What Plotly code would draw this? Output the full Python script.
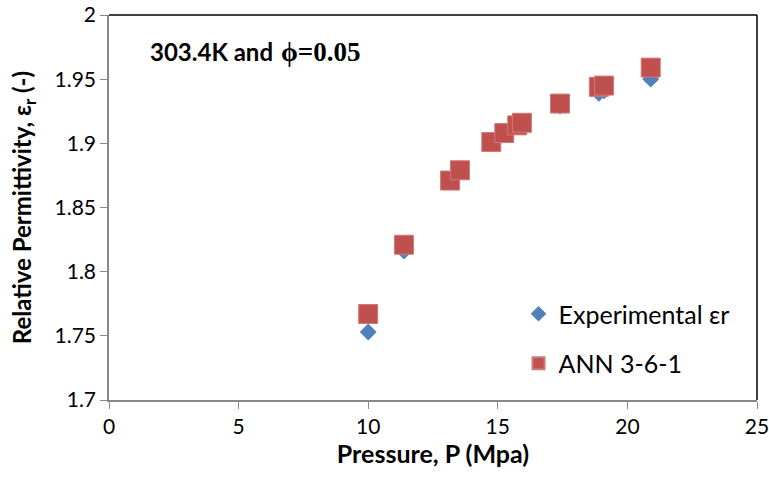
import plotly.graph_objects as go

pressure_exp = [10.0, 11.38, 13.16, 13.54, 14.75, 15.25, 15.75, 15.93, 17.4, 18.9, 19.1, 20.9]
eps_exp = [1.753, 1.816, 1.870, 1.878, 1.900, 1.907, 1.913, 1.915, 1.929, 1.939, 1.941, 1.950]
pressure_ann = [10.0, 11.38, 13.16, 13.54, 14.75, 15.25, 15.75, 15.93, 17.4, 18.9, 19.1, 20.9]
eps_ann = [1.767, 1.821, 1.871, 1.879, 1.901, 1.908, 1.914, 1.916, 1.931, 1.944, 1.945, 1.959]

x_ticks = [0, 5, 10, 15, 20, 25]
y_ticks = [1.7, 1.75, 1.8, 1.85, 1.9, 1.95, 2.0]
y_tick_text = ["1.7", "1.75", "1.8", "1.85", "1.9", "1.95", "2"]

FONT = "Lato"

fig = go.Figure()
fig.add_trace(go.Scatter(
    x=pressure_exp, y=eps_exp, mode="markers", name="Experimental εr",
    legendgroup="a",
    marker=dict(symbol="diamond", size=13, color="#4F81BD", line=dict(width=0)),
))
fig.add_trace(go.Scatter(
    x=pressure_ann, y=eps_ann, mode="markers", name="ANN 3-6-1",
    legendgroup="b",
    marker=dict(symbol="square", size=19, color="#C0504D",
                line=dict(width=1, color="#D07A78")),
))

fig.update_layout(
    width=769, height=481,
    margin=dict(l=109, r=12, t=15, b=81),
    paper_bgcolor="white", plot_bgcolor="white",
    font=dict(family=FONT, color="black", size=20),
    showlegend=True,
    legend=dict(x=0.632, y=0.283, xanchor="left", yanchor="top",
                bgcolor="rgba(0,0,0,0)", font=dict(size=25, family=FONT),
                traceorder="grouped", tracegroupgap=14, itemsizing="constant"),
    xaxis=dict(range=[0, 25], tickvals=x_ticks, ticks="outside", ticklen=7,
               tickcolor="#888888", showline=True, linecolor="#888888",
               linewidth=1.5, showgrid=False, zeroline=False, automargin=False,
               ticklabeloverflow="allow",
               tickfont=dict(size=21, family=FONT),
               title=dict(text="<b>Pressure, P (Mpa)</b>", font=dict(size=25, family=FONT),
                          standoff=2)),
    yaxis=dict(range=[1.7, 2.0], tickvals=y_ticks, ticktext=y_tick_text,
               ticks="outside", ticklen=7, tickcolor="#888888", showline=True,
               linecolor="#888888", linewidth=1.5, showgrid=False, zeroline=False,
               automargin=False, ticklabeloverflow="allow",
               tickfont=dict(size=21, family=FONT),
               title=dict(text="<b>Relative Permittivity, ε<sub>r</sub> (-)</b>",
                          font=dict(size=24, family=FONT), standoff=16)),
)

# top and right border of plot area
fig.add_shape(type="line", xref="paper", yref="paper", x0=0, x1=1, y0=1, y1=1,
              line=dict(color="black", width=1.5))
fig.add_shape(type="line", xref="paper", yref="paper", x0=1, x1=1, y0=0, y1=1,
              line=dict(color="black", width=1.5))

fig.add_annotation(
    xref="paper", yref="paper", x=0.06, y=0.904, xanchor="left", yanchor="middle",
    showarrow=False, text="<b>303.4K and</b>",
    font=dict(size=24, family=FONT, color="black"),
)
fig.add_annotation(
    xref="paper", yref="paper", x=0.263, y=0.904, xanchor="left", yanchor="middle",
    showarrow=False, text="<b>ϕ=0.05</b>",
    font=dict(size=27, family="Liberation Serif", color="black"),
)

fig.write_html(
    "out.html",
    config={"displayModeBar": False},
    post_script="document.body.style.margin='0';document.body.style.overflow='hidden';",
)
